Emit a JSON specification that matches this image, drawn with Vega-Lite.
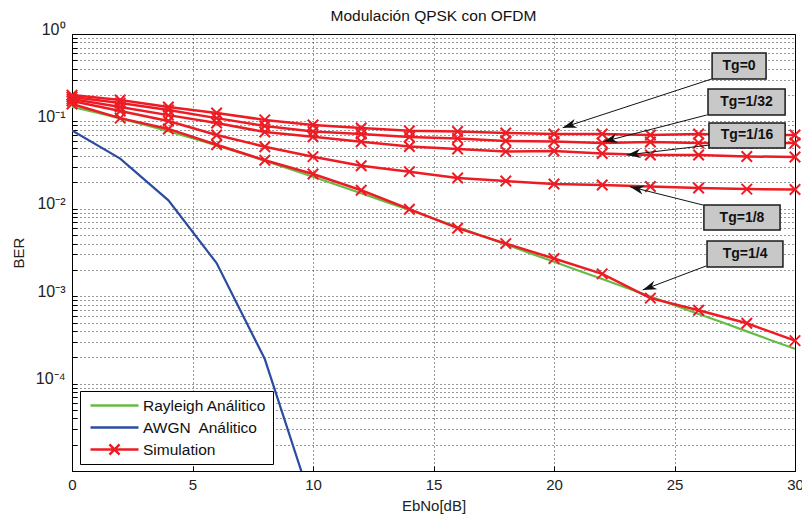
{
 "$schema": "https://vega.github.io/schema/vega-lite/v6.json",
 "width": 723,
 "height": 437,
 "autosize": {"type": "none"},
 "padding": {"left": 72, "top": 34, "right": 7, "bottom": 49},
 "background": "white",
 "config": {
  "font": "Liberation Sans",
  "view": {"stroke": "#000", "strokeWidth": 1},
  "axis": {"domain": false, "grid": true, "gridColor": "#000", "gridDash": [1, 3], "gridOpacity": 0.8, "gridWidth": 1, "tickColor": "#000", "tickSize": -5, "labelFont": "Liberation Sans", "labelFontSize": 15, "labelColor": "#222", "titleFont": "Liberation Sans", "titleFontSize": 15, "titleFontWeight": "normal", "titleColor": "#222"}
 },
 "title": {"text": "Modulación QPSK con OFDM", "fontSize": 15.5, "fontWeight": "normal", "font": "Liberation Sans", "color": "#111", "offset": -3, "anchor": "middle"},
 "datasets": {
  "rayleigh": [
   {"EbNo": 0, "BER": 0.14645}, {"EbNo": 1, "BER": 0.12673}, {"EbNo": 2, "BER": 0.10849}, {"EbNo": 3, "BER": 0.09191},
   {"EbNo": 4, "BER": 0.07714}, {"EbNo": 5, "BER": 0.06418}, {"EbNo": 6, "BER": 0.053}, {"EbNo": 7, "BER": 0.04347},
   {"EbNo": 8, "BER": 0.03546}, {"EbNo": 9, "BER": 0.02878}, {"EbNo": 10, "BER": 0.02327}, {"EbNo": 11, "BER": 0.01875},
   {"EbNo": 12, "BER": 0.01507}, {"EbNo": 13, "BER": 0.01208}, {"EbNo": 14, "BER": 0.00967}, {"EbNo": 15, "BER": 0.00773},
   {"EbNo": 16, "BER": 0.00617}, {"EbNo": 17, "BER": 0.00491}, {"EbNo": 18, "BER": 0.00392}, {"EbNo": 19, "BER": 0.00311},
   {"EbNo": 20, "BER": 0.00248}, {"EbNo": 21, "BER": 0.00197}, {"EbNo": 22, "BER": 0.00157}, {"EbNo": 23, "BER": 0.001248},
   {"EbNo": 24, "BER": 0.000992}, {"EbNo": 25, "BER": 0.000788}, {"EbNo": 26, "BER": 0.000627}, {"EbNo": 27, "BER": 0.000499},
   {"EbNo": 28, "BER": 0.000396}, {"EbNo": 29, "BER": 0.000314}, {"EbNo": 30, "BER": 0.00025}
  ],
  "awgn": [
   {"EbNo": 0, "BER": 0.0786}, {"EbNo": 2, "BER": 0.0375}, {"EbNo": 4, "BER": 0.0125},
   {"EbNo": 6, "BER": 0.00239}, {"EbNo": 8, "BER": 0.000191}, {"EbNo": 10, "BER": 0.00000387}
  ],
  "sim": [
   {"Tg": "0", "EbNo": 0, "BER": 0.2}, {"Tg": "0", "EbNo": 2, "BER": 0.176}, {"Tg": "0", "EbNo": 4, "BER": 0.146}, {"Tg": "0", "EbNo": 6, "BER": 0.125},
   {"Tg": "0", "EbNo": 8, "BER": 0.104}, {"Tg": "0", "EbNo": 10, "BER": 0.091}, {"Tg": "0", "EbNo": 12, "BER": 0.084}, {"Tg": "0", "EbNo": 14, "BER": 0.078},
   {"Tg": "0", "EbNo": 16, "BER": 0.0766}, {"Tg": "0", "EbNo": 18, "BER": 0.0737}, {"Tg": "0", "EbNo": 20, "BER": 0.0718}, {"Tg": "0", "EbNo": 22, "BER": 0.0718},
   {"Tg": "0", "EbNo": 24, "BER": 0.0699}, {"Tg": "0", "EbNo": 26, "BER": 0.0718}, {"Tg": "0", "EbNo": 28, "BER": 0.0699}, {"Tg": "0", "EbNo": 30, "BER": 0.0699},
   {"Tg": "1/32", "EbNo": 0, "BER": 0.19}, {"Tg": "1/32", "EbNo": 2, "BER": 0.162}, {"Tg": "1/32", "EbNo": 4, "BER": 0.135}, {"Tg": "1/32", "EbNo": 6, "BER": 0.109},
   {"Tg": "1/32", "EbNo": 8, "BER": 0.0886}, {"Tg": "1/32", "EbNo": 10, "BER": 0.0766}, {"Tg": "1/32", "EbNo": 12, "BER": 0.0718}, {"Tg": "1/32", "EbNo": 14, "BER": 0.0663},
   {"Tg": "1/32", "EbNo": 16, "BER": 0.0637}, {"Tg": "1/32", "EbNo": 18, "BER": 0.0597}, {"Tg": "1/32", "EbNo": 20, "BER": 0.0589}, {"Tg": "1/32", "EbNo": 22, "BER": 0.0566},
   {"Tg": "1/32", "EbNo": 24, "BER": 0.0581}, {"Tg": "1/32", "EbNo": 26, "BER": 0.0566}, {"Tg": "1/32", "EbNo": 28, "BER": 0.0566}, {"Tg": "1/32", "EbNo": 30, "BER": 0.0566},
   {"Tg": "1/16", "EbNo": 0, "BER": 0.18}, {"Tg": "1/16", "EbNo": 2, "BER": 0.146}, {"Tg": "1/16", "EbNo": 4, "BER": 0.118}, {"Tg": "1/16", "EbNo": 6, "BER": 0.096},
   {"Tg": "1/16", "EbNo": 8, "BER": 0.0756}, {"Tg": "1/16", "EbNo": 10, "BER": 0.0668}, {"Tg": "1/16", "EbNo": 12, "BER": 0.0586}, {"Tg": "1/16", "EbNo": 14, "BER": 0.0516},
   {"Tg": "1/16", "EbNo": 16, "BER": 0.0483}, {"Tg": "1/16", "EbNo": 18, "BER": 0.0452}, {"Tg": "1/16", "EbNo": 20, "BER": 0.0458}, {"Tg": "1/16", "EbNo": 22, "BER": 0.0429},
   {"Tg": "1/16", "EbNo": 24, "BER": 0.0413}, {"Tg": "1/16", "EbNo": 26, "BER": 0.0413}, {"Tg": "1/16", "EbNo": 28, "BER": 0.0397}, {"Tg": "1/16", "EbNo": 30, "BER": 0.0392},
   {"Tg": "1/8", "EbNo": 0, "BER": 0.171}, {"Tg": "1/8", "EbNo": 2, "BER": 0.1315}, {"Tg": "1/8", "EbNo": 4, "BER": 0.101}, {"Tg": "1/8", "EbNo": 6, "BER": 0.07},
   {"Tg": "1/8", "EbNo": 8, "BER": 0.0513}, {"Tg": "1/8", "EbNo": 10, "BER": 0.0395}, {"Tg": "1/8", "EbNo": 12, "BER": 0.0311}, {"Tg": "1/8", "EbNo": 14, "BER": 0.0266},
   {"Tg": "1/8", "EbNo": 16, "BER": 0.0225}, {"Tg": "1/8", "EbNo": 18, "BER": 0.0208}, {"Tg": "1/8", "EbNo": 20, "BER": 0.0192}, {"Tg": "1/8", "EbNo": 22, "BER": 0.0187},
   {"Tg": "1/8", "EbNo": 24, "BER": 0.018}, {"Tg": "1/8", "EbNo": 26, "BER": 0.0173}, {"Tg": "1/8", "EbNo": 28, "BER": 0.0168}, {"Tg": "1/8", "EbNo": 30, "BER": 0.0166},
   {"Tg": "1/4", "EbNo": 0, "BER": 0.158}, {"Tg": "1/4", "EbNo": 2, "BER": 0.109}, {"Tg": "1/4", "EbNo": 4, "BER": 0.082}, {"Tg": "1/4", "EbNo": 6, "BER": 0.054},
   {"Tg": "1/4", "EbNo": 8, "BER": 0.036}, {"Tg": "1/4", "EbNo": 10, "BER": 0.025}, {"Tg": "1/4", "EbNo": 12, "BER": 0.0163}, {"Tg": "1/4", "EbNo": 14, "BER": 0.0099},
   {"Tg": "1/4", "EbNo": 16, "BER": 0.006}, {"Tg": "1/4", "EbNo": 18, "BER": 0.004}, {"Tg": "1/4", "EbNo": 20, "BER": 0.0027}, {"Tg": "1/4", "EbNo": 22, "BER": 0.0018},
   {"Tg": "1/4", "EbNo": 24, "BER": 0.00095}, {"Tg": "1/4", "EbNo": 26, "BER": 0.00069}, {"Tg": "1/4", "EbNo": 28, "BER": 0.00049}, {"Tg": "1/4", "EbNo": 30, "BER": 0.00031}
  ],
  "boxes": [
   {"label": "Tg=0", "EbNo": 26.56, "EbNo2": 28.8, "BER": 0.6062, "BER2": 0.3055},
   {"label": "Tg=1/32", "EbNo": 26.39, "EbNo2": 29.59, "BER": 0.2348, "BER2": 0.1184},
   {"label": "Tg=1/16", "EbNo": 26.43, "EbNo2": 29.59, "BER": 0.0959, "BER2": 0.0496},
   {"label": "Tg=1/8", "EbNo": 26.22, "EbNo2": 29.38, "BER": 0.01105, "BER2": 0.00572},
   {"label": "Tg=1/4", "EbNo": 26.35, "EbNo2": 29.5, "BER": 0.00428, "BER2": 0.00216}
  ],
  "tglabels": [
   {"label": "Tg=0", "EbNo": 27.68, "BER": 0.4304},
   {"label": "Tg=1/32", "EbNo": 27.99, "BER": 0.1667},
   {"label": "Tg=1/16", "EbNo": 28.01, "BER": 0.069},
   {"label": "Tg=1/8", "EbNo": 27.8, "BER": 0.00795},
   {"label": "Tg=1/4", "EbNo": 27.93, "BER": 0.00304}
  ],
  "arrows": [
   {"label": "Tg=0", "EbNo": 26.54, "BER": 0.3055}, {"label": "Tg=0", "EbNo": 20.36, "BER": 0.0847},
   {"label": "Tg=1/32", "EbNo": 26.34, "BER": 0.1184}, {"label": "Tg=1/32", "EbNo": 22.05, "BER": 0.0586},
   {"label": "Tg=1/16", "EbNo": 26.47, "BER": 0.0537}, {"label": "Tg=1/16", "EbNo": 23.02, "BER": 0.0413},
   {"label": "Tg=1/8", "EbNo": 26.18, "BER": 0.01105}, {"label": "Tg=1/8", "EbNo": 23.15, "BER": 0.0179},
   {"label": "Tg=1/4", "EbNo": 26.31, "BER": 0.002216}, {"label": "Tg=1/4", "EbNo": 23.68, "BER": 0.001178}
  ],
  "heads": [
   {"label": "Tg=0", "EbNo": 20.36, "BER": 0.0847, "dir": 251.9},
   {"label": "Tg=1/32", "EbNo": 22.05, "BER": 0.0586, "dir": 255.5},
   {"label": "Tg=1/16", "EbNo": 23.02, "BER": 0.0413, "dir": 263.2},
   {"label": "Tg=1/8", "EbNo": 23.15, "BER": 0.0179, "dir": 284.1},
   {"label": "Tg=1/4", "EbNo": 23.68, "BER": 0.001178, "dir": 249.2}
  ]
 },
 "encoding": {
  "x": {"field": "EbNo", "type": "quantitative", "scale": {"domain": [0, 30], "nice": false, "zero": false},
        "axis": {"title": "EbNo[dB]", "values": [0, 5, 10, 15, 20, 25, 30], "labelFlush": false, "labelPadding": 11, "titlePadding": 6}},
  "y": {"field": "BER", "type": "quantitative", "scale": {"type": "log", "domain": [0.00001, 1], "nice": false},
        "axis": {"title": "BER", "values": [0.00001, 0.00002, 0.00003, 0.00004, 0.00005, 0.00006, 0.00007, 0.00008, 0.00009, 0.0001, 0.0002, 0.0003, 0.0004, 0.0005, 0.0006, 0.0007, 0.0008, 0.0009, 0.001, 0.002, 0.003, 0.004, 0.005, 0.006, 0.007, 0.008, 0.009, 0.01, 0.02, 0.03, 0.04, 0.05, 0.06, 0.07, 0.08, 0.09, 0.1, 0.2, 0.3, 0.4, 0.5, 0.6, 0.7, 0.8, 0.9, 1],
                 "labelExpr": "datum.value == 1 ? '10⁰' : datum.value == 0.1 ? '10⁻¹' : datum.value == 0.01 ? '10⁻²' : datum.value == 0.001 ? '10⁻³' : datum.value == 0.0001 ? '10⁻⁴' : ''",
                 "labelOverlap": false, "labelBaseline": "alphabetic", "labelFontSize": 16, "labelPadding": 12, "titlePadding": 9}}
 },
 "layer": [
  {"data": {"name": "rayleigh"}, "mark": {"type": "line", "strokeWidth": 2.2, "clip": true},
   "encoding": {"color": {"datum": "Rayleigh Análitico", "type": "nominal",
     "scale": {"domain": ["Rayleigh Análitico", "AWGN\u00a0 Análitico", "Simulation"], "range": ["#66bb44", "#2b4c9f", "#ed1c24"]},
     "legend": {"orient": "none", "legendX": 8, "legendY": 357, "title": null, "direction": "vertical", "symbolType": "stroke", "symbolSize": 2304, "symbolStrokeWidth": 2.5, "labelFontSize": 15.5, "labelFont": "Liberation Sans", "labelColor": "#111", "labelOffset": 3, "clipHeight": 17, "rowPadding": 5, "padding": 6, "fillColor": "white", "strokeColor": "#000", "symbolOffset": 3,
       "encode": {"symbols": {"update": {"shape": {"signal": "datum.value === 'Simulation' ? 'M-1,0L1,0M-0.21,-0.21L0.21,0.21M-0.21,0.21L0.21,-0.21' : 'stroke'"}}}}}}}},
  {"data": {"name": "awgn"}, "mark": {"type": "line", "strokeWidth": 2.2, "clip": true},
   "encoding": {"color": {"datum": "AWGN\u00a0 Análitico", "type": "nominal"}}},
  {"data": {"name": "sim"}, "mark": {"type": "line", "strokeWidth": 2.5},
   "encoding": {"color": {"datum": "Simulation", "type": "nominal"}, "detail": {"field": "Tg"}}},
  {"data": {"name": "sim"}, "mark": {"type": "point", "shape": "M-1,-1L1,1M-1,1L1,-1", "filled": false, "size": 110, "strokeWidth": 2, "color": "#ed1c24", "opacity": 1}},
  {"data": {"name": "boxes"}, "mark": {"type": "rect", "fill": "#c8c8c8", "stroke": "#1a1a1a", "strokeWidth": 1.5},
   "encoding": {"x2": {"field": "EbNo2"}, "y2": {"field": "BER2"}}},
  {"data": {"name": "tglabels"}, "mark": {"type": "text", "fontWeight": "bold", "fontSize": 14, "font": "Liberation Sans", "color": "#111"},
   "encoding": {"text": {"field": "label"}}},
  {"data": {"name": "arrows"}, "mark": {"type": "line", "color": "#111", "strokeWidth": 1},
   "encoding": {"detail": {"field": "label"}}},
  {"data": {"name": "heads"}, "mark": {"type": "point", "shape": "M0,0L-0.33,1L0,0.7L0.33,1Z", "filled": true, "size": 784, "color": "#111", "opacity": 1},
   "encoding": {"angle": {"field": "dir", "type": "quantitative", "scale": null}}}
 ]
}
